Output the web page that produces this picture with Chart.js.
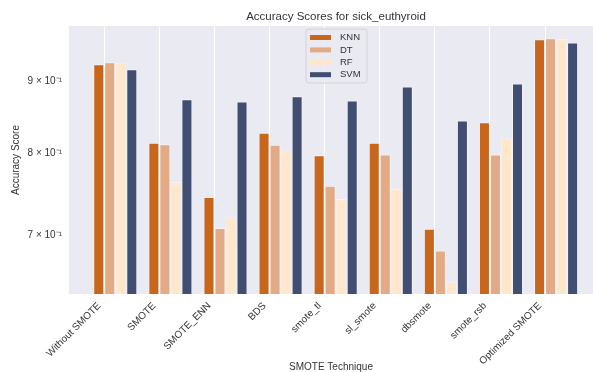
<!DOCTYPE html>
<html>
<head>
<meta charset="utf-8">
<script src="https://cdn.jsdelivr.net/npm/chart.js@4/dist/chart.umd.min.js"></script>
<style>
  html, body { margin: 0; padding: 0; background: #ffffff; }
  #wrap { width: 593px; height: 372px; position: relative; }
</style>
</head>
<body>
<div id="wrap"><canvas id="chart"></canvas></div>
<script>
// SMOTE variants compared on the sick_euthyroid dataset
const techniques = ['Without SMOTE', 'SMOTE', 'SMOTE_ENN', 'BDS', 'smote_tl', 'sl_smote', 'dbsmote', 'smote_rsb', 'Optimized SMOTE'];

// Accuracy per classifier, one value per technique
const knnScores = [0.9247, 0.8140, 0.7454, 0.8272, 0.7975, 0.8140, 0.7079, 0.8415, 0.9629];
const dtScores  = [0.9277, 0.8120, 0.7086, 0.8112, 0.7592, 0.7987, 0.6834, 0.7987, 0.9645];
const rfScores  = [0.9270, 0.7637, 0.7211, 0.8038, 0.7430, 0.7550, 0.6490, 0.8201, 0.9634];
const svmScores = [0.9170, 0.8736, 0.8704, 0.8777, 0.8718, 0.8920, 0.8439, 0.8961, 0.9580];

const yTickValues = [0.7, 0.8, 0.9];
const classifierNames = ['KNN', 'DT', 'RF', 'SVM'];
const classifierColors = ['#c8671b', '#e3ab85', '#fee7cb', '#404e71'];

const FONT = "'Liberation Sans', Arial, Helvetica, sans-serif";
const TEXT = '#333333';

// Groups sit just to the right of each category tick
const GROUP_SHIFT = 0.2;
const series = [knnScores, dtScores, rfScores, svmScores];
const datasets = series.map((vals, k) => ({
  label: classifierNames[k],
  data: vals.map((v, i) => ({ x: i + GROUP_SHIFT, y: v })),
  backgroundColor: classifierColors[k],
  borderColor: 'rgba(255,255,255,0.45)',
  borderWidth: 1,
  categoryPercentage: 0.8,
  barPercentage: 1.0
}));

// Axes face colour
const facePlugin = {
  id: 'face',
  beforeDraw(chart) {
    const { ctx, chartArea: a } = chart;
    ctx.save();
    ctx.fillStyle = '#eaeaf2';
    ctx.fillRect(a.left, a.top, chart.width - a.left, a.bottom - a.top);
    ctx.restore();
  }
};

// Title and boxed legend drawn over the axes
const decorPlugin = {
  id: 'decor',
  afterDraw(chart) {
    const { ctx } = chart;
    ctx.save();
    ctx.fillStyle = TEXT;
    ctx.font = `11.5px ${FONT}`;
    ctx.textAlign = 'center';
    ctx.textBaseline = 'middle';
    ctx.fillText('Accuracy Scores for sick_euthyroid', 336, 17);

    const bx = 306, by = 29, bw = 61, bh = 54, r = 3;
    ctx.beginPath();
    ctx.moveTo(bx + r, by);
    ctx.arcTo(bx + bw, by, bx + bw, by + bh, r);
    ctx.arcTo(bx + bw, by + bh, bx, by + bh, r);
    ctx.arcTo(bx, by + bh, bx, by, r);
    ctx.arcTo(bx, by, bx + bw, by, r);
    ctx.closePath();
    ctx.fillStyle = 'rgba(234,234,242,0.85)';
    ctx.fill();
    ctx.strokeStyle = '#d2d2d8';
    ctx.lineWidth = 1;
    ctx.stroke();

    ctx.font = `9.5px ${FONT}`;
    ctx.textAlign = 'left';
    chart.data.datasets.forEach((ds, k) => {
      const cy = 37.5 + k * 12.4;
      ctx.fillStyle = ds.backgroundColor;
      ctx.fillRect(310, cy - 2.5, 21, 5);
      ctx.fillStyle = TEXT;
      ctx.fillText(ds.label, 340, cy);
    });
    ctx.restore();
  }
};

new Chart(document.getElementById('chart'), {
  type: 'bar',
  data: { datasets },
  plugins: [facePlugin, decorPlugin],
  options: {
    responsive: true,
    maintainAspectRatio: false,
    animation: false,
    layout: { padding: { top: 26, right: 0, bottom: 0, left: 0 } },
    plugins: {
      legend: { display: false },
      title: { display: false },
      tooltip: { enabled: false }
    },
    scales: {
      x: {
        type: 'linear',
        bounds: 'data',
        min: -0.64,
        max: 8.87,
        offset: false,
        afterBuildTicks(scale) {
          scale.ticks = techniques.map((_, i) => ({ value: i }));
        },
        afterFit(scale) {
          scale.height = 78;
          scale.paddingLeft = 0;
          scale.paddingRight = 0;
        },
        grid: { display: true, offset: false, color: '#ffffff', lineWidth: 1, drawTicks: false },
        border: { display: false },
        ticks: {
          autoSkip: false,
          minRotation: 45,
          maxRotation: 45,
          padding: 6,
          labelOffset: -5,
          color: TEXT,
          font: { family: FONT, size: 10 },
          callback: (v) => techniques[v]
        },
        title: {
          display: true,
          text: 'SMOTE Technique',
          color: TEXT,
          font: { family: FONT, size: 10 },
          padding: { top: 0, bottom: -1 }
        }
      },
      y: {
        type: 'logarithmic',
        min: 0.6367,
        max: 0.9839,
        afterBuildTicks(scale) {
          scale.ticks = yTickValues.map(v => ({ value: v }));
        },
        afterFit(scale) {
          scale.width = 69;
          scale.paddingTop = 0;
          scale.paddingBottom = 0;
        },
        grid: { display: false, drawTicks: false },
        border: { display: false },
        ticks: {
          padding: 7,
          color: TEXT,
          font: { family: FONT, size: 10 },
          callback: (v) => `${Math.round(v * 10)} \u00d7 10\u207b\u00b9`
        },
        title: {
          display: true,
          text: 'Accuracy Score',
          color: TEXT,
          font: { family: FONT, size: 10 },
          padding: { top: 10, bottom: 0 }
        }
      }
    }
  }
});
</script>
</body>
</html>
